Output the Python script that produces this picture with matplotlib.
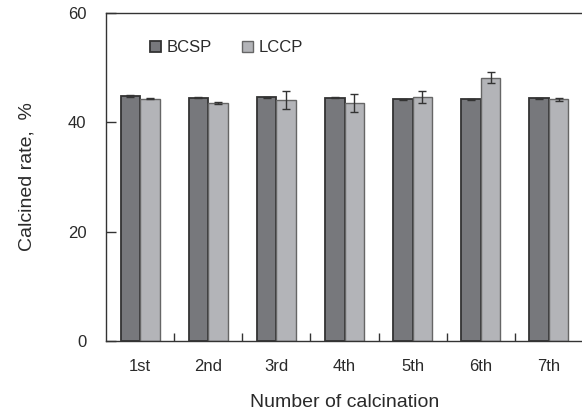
import matplotlib
matplotlib.use("Agg")
import matplotlib.pyplot as plt
from matplotlib.patches import Patch
import numpy as np

plt.rcParams['font.family'] = ['Liberation Sans', 'DejaVu Sans']

categories = ['1st', '2nd', '3rd', '4th', '5th', '6th', '7th']
bcsp = [44.8, 44.5, 44.55, 44.5, 44.2, 44.2, 44.4]
bcsp_err = [0.15, 0.1, 0.15, 0.1, 0.15, 0.1, 0.1]
lccp = [44.3, 43.5, 44.1, 43.5, 44.55, 48.2, 44.2]
lccp_err = [0.1, 0.15, 1.7, 1.65, 1.1, 1.0, 0.3]
series_names = ['BCSP', 'LCCP']

text_color = '#2a2a2a'
fig = plt.figure(figsize=(5.82, 4.11), dpi=100)
ax = fig.add_axes([106/582, 1-341/411, 477/582, 328/411])

x = np.arange(len(categories))
w = 0.287
c1, c2 = '#77787c', '#b3b4b8'
ax.bar(x - w/2, bcsp, w, color=c1, edgecolor='#333333', linewidth=1.3,
       yerr=bcsp_err, capsize=3, error_kw=dict(ecolor='#333333', elinewidth=1, capthick=1), zorder=2)
ax.bar(x + w/2, lccp, w, color=c2, edgecolor='#666666', linewidth=1.0,
       yerr=lccp_err, capsize=3, error_kw=dict(ecolor='#333333', elinewidth=1, capthick=1), zorder=2)

ax.set_xlim(-0.5, len(categories) - 0.5)
ax.set_ylim(0, 60)
ax.set_yticks([0, 20, 40, 60])
ax.set_xticks(x)
ax.set_xticklabels(categories)
ax.set_xticks(np.arange(len(categories) - 1) + 0.5, minor=True)
ax.tick_params(axis='x', which='major', length=0, pad=13, labelsize=12, labelcolor=text_color)
ax.tick_params(axis='x', which='minor', direction='in', length=6, width=1, color='#333333')
ax.tick_params(axis='y', which='major', direction='in', length=7, width=1, color='#333333',
               pad=14, labelsize=12, labelcolor=text_color)

for s in ['left', 'top', 'bottom']:
    ax.spines[s].set_linewidth(1.0)
    ax.spines[s].set_color('#333333')
ax.spines['right'].set_visible(False)

ax.set_xlabel('Number of calcination', fontsize=14, color=text_color, labelpad=14)
ax.set_ylabel('Calcined rate,  %', fontsize=14, color=text_color, labelpad=23)

handles = [Patch(facecolor=c1, edgecolor='#333333', linewidth=1.3),
           Patch(facecolor=c2, edgecolor='#666666', linewidth=1.0)]
ax.legend(handles, series_names, loc='upper left', ncol=2, frameon=False,
          bbox_to_anchor=(150/582, 1-40.5/411), bbox_transform=fig.transFigure,
          borderpad=0, borderaxespad=0, handlelength=0.66, handleheight=0.66,
          handletextpad=0.35, columnspacing=1.8, fontsize=12, labelcolor=text_color)

fig.savefig('out.png', dpi=100)
